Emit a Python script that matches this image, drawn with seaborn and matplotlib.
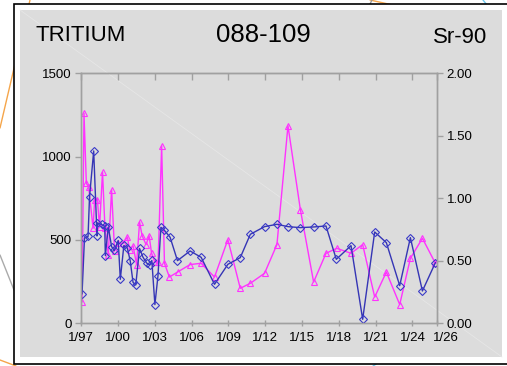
import matplotlib
matplotlib.use("Agg")
import matplotlib.pyplot as plt
import matplotlib.transforms as mtransforms
from matplotlib.lines import Line2D
from matplotlib.patches import Rectangle
import seaborn as sns
import pandas as pd

# ---------------- data ----------------
tritium_dates = [1997.06, 1997.26, 1997.55, 1997.67, 1998.01, 1998.28, 1998.32, 1998.65, 1998.91, 1998.96,
                 1999.20, 1999.47, 1999.69, 2000.01, 2000.18, 2000.47, 2000.75, 2000.99, 2001.22, 2001.44,
                 2001.75, 2002.02, 2002.32, 2002.57, 2002.75, 2003.00, 2003.25, 2003.49, 2003.75, 2004.24,
                 2004.84, 2005.87, 2006.77, 2007.86, 2008.95, 2009.96, 2010.78, 2011.94, 2012.95, 2013.85,
                 2014.86, 2015.94, 2016.95, 2017.79, 2018.99, 2019.94, 2020.92, 2021.87, 2022.96, 2023.83,
                 2024.81, 2025.87]
tritium_values = [176, 512, 521, 758, 1034, 524, 602, 593, 581, 406,
                  578, 460, 437, 497, 264, 467, 452, 374, 245, 230,
                  449, 398, 362, 350, 377, 112, 284, 576, 560, 516,
                  376, 434, 396, 234, 354, 394, 534, 580, 594, 580,
                  574, 578, 584, 384, 466, 24, 548, 484, 226, 514,
                  194, 364]

sr90_dates = [1997.06, 1997.22, 1997.41, 1997.60, 1997.96, 1998.09, 1998.31, 1998.49, 1998.73, 1998.93,
              1999.20, 1999.47, 1999.71, 2000.02, 2000.40, 2000.76, 2000.93, 2001.22, 2001.51, 2001.75,
              2001.96, 2002.28, 2002.53, 2002.73, 2002.99, 2003.26, 2003.55, 2003.78, 2004.18, 2004.85,
              2005.87, 2006.77, 2007.86, 2008.95, 2009.96, 2010.78, 2011.94, 2012.95, 2013.85, 2014.86,
              2015.94, 2016.95, 2017.83, 2018.99, 2019.94, 2020.92, 2021.87, 2022.96, 2023.83, 2024.81,
              2025.87]
sr90_values = [0.17, 1.68, 1.12, 1.09, 0.76, 0.99, 0.99, 0.77, 1.21, 0.76,
               0.55, 1.07, 0.58, 0.64, 0.64, 0.69, 0.59, 0.62, 0.47, 0.81,
               0.70, 0.63, 0.70, 0.56, 0.49, 0.49, 1.42, 0.48, 0.37, 0.41,
               0.47, 0.48, 0.37, 0.67, 0.28, 0.32, 0.40, 0.63, 1.58, 0.91,
               0.33, 0.56, 0.60, 0.56, 0.63, 0.21, 0.41, 0.15, 0.52, 0.68,
               0.48]

x_tick_pos = [1997, 2000, 2003, 2006, 2009, 2012, 2015, 2018, 2021, 2024, 2026]
x_tick_labels = ["1/97", "1/00", "1/03", "1/06", "1/09", "1/12", "1/15", "1/18", "1/21", "1/24", "1/26"]
left_ticks = [0, 500, 1000, 1500]
right_ticks = [0.0, 0.5, 1.0, 1.5, 2.0]

title_left = "TRITIUM"
title_mid = "088-109"
title_right = "Sr-90"

# ---------------- style ----------------
sns.set_style("white")
plt.rcParams["font.family"] = ["Liberation Sans", "DejaVu Sans"]

W, H = 507, 366
fig = plt.figure(figsize=(W / 100, H / 100), dpi=100)
fig.patch.set_facecolor("white")

def px(x, y):
    return x / W, 1 - y / H

# decorative background lines (outside the panel)
deco = [((30, 0), (0, 128), "#f5a54a"), ((0, 360), (16, 366), "#f5a54a"),
        ((370, 0), (420, 11), "#f5a54a"), ((483, 0), (491, 10), "#6cc8ee"),
        ((367, 10), (372, 0), "#999999"), ((373, 366), (384, 359), "#6cc8ee"),
        ((0, 255), (14, 290), "#aaaaaa")]
for (a, b, c) in deco:
    x0, y0 = px(*a)
    x1, y1 = px(*b)
    fig.add_artist(Line2D([x0, x1], [y0, y1], color=c, lw=1.0, transform=fig.transFigure, zorder=0))

# black frame
fx0, fy0 = px(14, 364)
fig.add_artist(Rectangle((fx0, fy0), 1.2, (364 - 4) / H, transform=fig.transFigure,
                         facecolor="white", edgecolor="black", lw=1.2, zorder=0.5))
# gray panel
gx0, gy0 = px(20, 357)
fig.add_artist(Rectangle((gx0, gy0), (502 - 20) / W, (357 - 10) / H, transform=fig.transFigure,
                         facecolor="#dcdcdc", edgecolor="none", zorder=0.6))
# faint diagonal across panel
d0 = px(20, 10)
d1 = px(502, 357)
fig.add_artist(Line2D([d0[0], d1[0]], [d0[1], d1[1]], color="#e6e6e6", lw=0.6,
                      transform=fig.transFigure, zorder=0.7))

# axes
left, right = 81.3 / W, 437.0 / W
bottom, top = (H - 323.3) / H, (H - 73.3) / H
ax = fig.add_axes([left, bottom, right - left, top - bottom])
ax2 = ax.twinx()
for a in (ax, ax2):
    a.patch.set_visible(False)
ax.set_zorder(3)
ax2.set_zorder(2)

df_t = pd.DataFrame({"date": tritium_dates, "value": tritium_values})
df_s = pd.DataFrame({"date": sr90_dates, "value": sr90_values})

sns.lineplot(data=df_s, x="date", y="value", ax=ax2, color="#ff33ff", lw=1.0,
             marker="^", markersize=5, markerfacecolor="none", markeredgecolor="#ff33ff",
             markeredgewidth=0.8, estimator=None, sort=False)
sns.lineplot(data=df_t, x="date", y="value", ax=ax, color="#3535b5", lw=1.0,
             marker="D", markersize=3.6, markerfacecolor="none", markeredgecolor="#3a3ac8",
             markeredgewidth=0.8, estimator=None, sort=False)

ax.set_xlim(1997, 2026)
ax.set_ylim(0, 1500)
ax2.set_ylim(0, 2.0)
ax.set_xlabel("")
ax.set_ylabel("")
ax2.set_xlabel("")
ax2.set_ylabel("")

spine_c = "#a0a0a0"
for a in (ax, ax2):
    for s in a.spines.values():
        s.set_color(spine_c)
        s.set_linewidth(1.0)
        s.set_visible(True)

ax.set_xticks(x_tick_pos)
ax.set_xticklabels(x_tick_labels)
ax.set_yticks(left_ticks)
ax.set_yticklabels([str(v) for v in left_ticks])
ax2.set_yticks(right_ticks)
ax2.set_yticklabels([f"{v:.2f}" for v in right_ticks])

ax.tick_params(axis="x", which="major", direction="inout", length=5, width=1, color=spine_c,
               labelsize=9.5, labelcolor="black", pad=4, top=False, bottom=True)
ax.tick_params(axis="y", which="major", direction="out", length=4, width=1, color=spine_c,
               labelsize=9.5, labelcolor="black", pad=3, left=True)
ax2.tick_params(axis="y", which="major", direction="out", length=4, width=1, color=spine_c,
                labelsize=9.5, labelcolor="black", pad=3, right=True)

# top ticks pointing inward
secx = ax.secondary_xaxis("top")
secx.set_xticks(x_tick_pos)
secx.set_xticklabels([])
secx.tick_params(direction="in", length=5, width=1, color=spine_c)
secx.spines["top"].set_color(spine_c)

# shift last label to the right like the reference
lbl = ax.get_xticklabels()[-1]
lbl.set_transform(lbl.get_transform() + mtransforms.ScaledTranslation(0.09, 0, fig.dpi_scale_trans))

# titles
fig.text(35 / W, 1 - 41 / H, title_left, fontsize=16, ha="left", va="baseline", color="black", zorder=5)
fig.text(263.5 / W, 1 - 41.7 / H, title_mid, fontsize=18.5, ha="center", va="baseline", color="black", zorder=5)
fig.text(487 / W, 1 - 43 / H, title_right, fontsize=16, ha="right", va="baseline", color="black", zorder=5)

fig.savefig("out.png", dpi=100, facecolor="white")
